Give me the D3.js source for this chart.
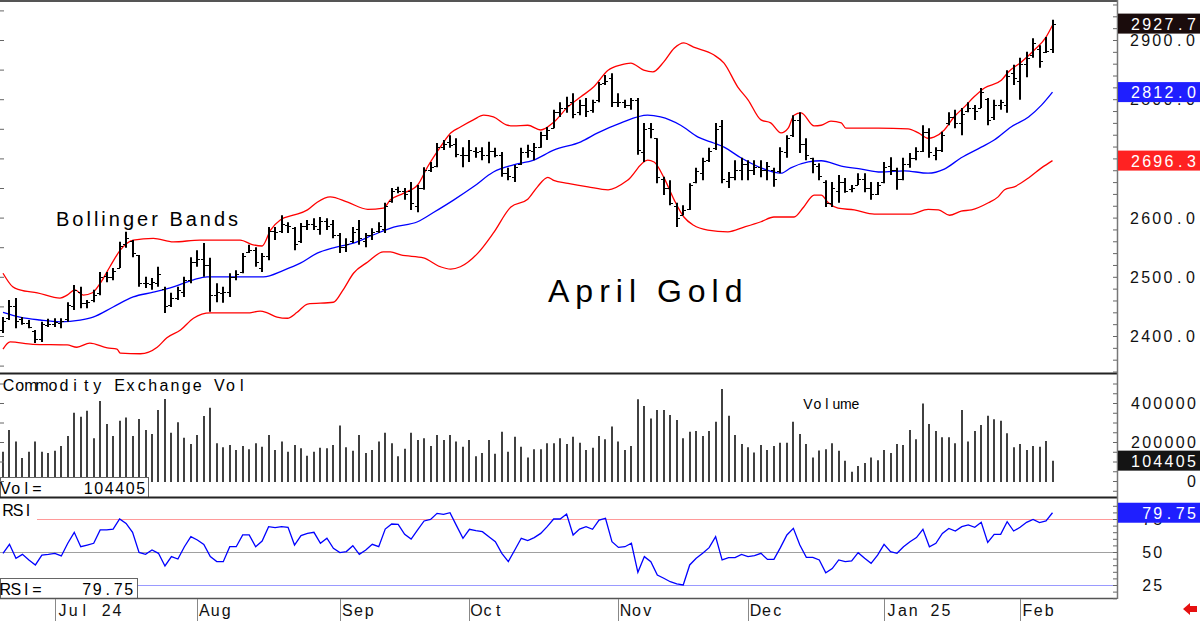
<!DOCTYPE html>
<html><head><meta charset="utf-8">
<script src="https://cdn.jsdelivr.net/npm/d3@7"></script>
<style>body{margin:0;background:#fff;} svg{display:block;font-family:"Liberation Sans",Arial,sans-serif;}</style>
</head><body><svg id="c" width="1200" height="621"></svg>
<script>
// ---------- DATA ----------
const monthLabels = ["Jul 24","Aug","Sep","Oct","Nov","Dec","Jan 25","Feb"];
const monthStartIdx = [8,30,52,72,95,115,136,157];
const priceTicks = [2400,2500,2600,2700,2800,2900];
const volumeTicks = [0,200000,400000];
const rsiTicks = [25,50,75];

const highs = [2432,2461,2464,2432,2427,2410,2424,2429,2430,2430,
2457,2486,2483,2461,2478,2508,2508,2515,2559,2576,
2562,2537,2500,2498,2517,2483,2473,2483,2500,2533,
2545,2557,2532,2489,2483,2506,2511,2540,2554,2550,
2540,2584,2584,2604,2592,2584,2591,2596,2599,2601,
2599,2596,2574,2565,2584,2596,2574,2582,2592,2625,
2650,2652,2650,2660,2655,2685,2694,2726,2731,2739,
2734,2719,2731,2719,2719,2728,2718,2711,2684,2689,
2718,2723,2726,2745,2753,2782,2795,2804,2810,2799,
2802,2799,2829,2841,2844,2810,2799,2802,2802,2760,
2760,2734,2669,2663,2625,2621,2658,2684,2701,2718,
2760,2765,2677,2697,2701,2697,2697,2697,2694,2684,
2719,2739,2773,2778,2734,2701,2692,2663,2660,2672,
2667,2655,2675,2675,2660,2660,2694,2702,2684,2701,
2709,2719,2756,2751,2719,2745,2778,2782,2785,2795,
2790,2819,2802,2799,2799,2849,2858,2870,2880,2903,
2891,2905,2934];
const lows = [2405,2427,2413,2419,2413,2388,2390,2415,2415,2413,
2424,2444,2447,2447,2457,2469,2491,2494,2515,2549,
2533,2483,2481,2478,2483,2439,2449,2461,2466,2489,
2517,2500,2441,2457,2456,2466,2494,2506,2540,2517,
2508,2528,2562,2574,2574,2545,2557,2579,2579,2571,
2579,2565,2540,2542,2557,2554,2550,2562,2574,2574,
2625,2641,2630,2613,2609,2647,2677,2685,2714,2718,
2702,2685,2694,2701,2697,2692,2702,2669,2663,2660,
2689,2701,2697,2718,2731,2751,2770,2777,2768,2773,
2770,2777,2795,2824,2787,2787,2785,2782,2706,2694,
2734,2658,2638,2621,2584,2604,2613,2658,2663,2694,
2714,2658,2650,2663,2663,2663,2672,2668,2663,2652,
2675,2701,2736,2709,2697,2675,2663,2618,2618,2625,
2642,2643,2655,2643,2630,2638,2658,2672,2647,2663,
2684,2697,2711,2701,2697,2711,2756,2751,2739,2778,
2765,2785,2756,2765,2782,2777,2824,2799,2837,2870,
2853,2878,2878];
const opens = [2410,2430,2450,2428,2422,2408,2395,2418,2420,2422,
2428,2450,2475,2455,2460,2472,2502,2500,2515,2555,
2560,2537,2490,2488,2490,2480,2452,2465,2475,2495,
2525,2530,2520,2470,2472,2475,2500,2508,2542,2545,
2515,2535,2578,2578,2588,2582,2560,2585,2590,2580,
2595,2590,2570,2550,2560,2580,2560,2570,2578,2580,
2628,2648,2645,2645,2620,2650,2680,2688,2720,2728,
2725,2705,2705,2712,2712,2705,2712,2705,2675,2668,
2690,2710,2712,2720,2740,2752,2778,2785,2795,2778,
2790,2782,2798,2828,2835,2795,2795,2790,2798,2710,
2752,2734,2665,2650,2620,2605,2615,2660,2675,2698,
2718,2755,2662,2668,2680,2690,2680,2685,2680,2680,
2678,2710,2740,2765,2725,2700,2688,2660,2625,2645,
2660,2648,2655,2665,2650,2640,2660,2688,2680,2665,
2690,2700,2712,2745,2705,2715,2760,2770,2760,2780,
2785,2785,2800,2770,2790,2790,2845,2830,2860,2875,
2885,2880,2885];
const closes = [2425,2450,2425,2422,2415,2395,2420,2420,2424,2425,
2452,2478,2455,2457,2470,2500,2500,2510,2552,2565,
2540,2490,2490,2492,2505,2450,2465,2478,2495,2525,
2530,2520,2470,2475,2475,2500,2505,2535,2545,2525,
2535,2578,2575,2590,2585,2555,2585,2590,2585,2595,
2585,2570,2550,2555,2575,2565,2570,2575,2585,2620,
2645,2645,2640,2625,2650,2680,2685,2720,2725,2722,
2708,2705,2715,2710,2705,2712,2705,2675,2670,2685,
2710,2715,2720,2740,2748,2778,2785,2790,2775,2790,
2780,2795,2825,2830,2795,2795,2790,2798,2715,2750,
2750,2668,2650,2625,2600,2612,2655,2678,2695,2712,
2750,2665,2668,2680,2690,2680,2685,2680,2688,2665,
2712,2735,2765,2725,2705,2690,2670,2625,2650,2660,
2645,2650,2665,2650,2640,2655,2685,2680,2665,2690,
2700,2712,2745,2710,2715,2740,2770,2760,2775,2785,
2780,2812,2765,2790,2795,2840,2835,2860,2870,2895,
2865,2882,2927.7];

// Bollinger bands: [bar index, price]
const upperBand = [[0,2506],[1.5,2483],[2.6,2478],[5.3,2473],[8.8,2464],[9.9,2469],[11.1,2478],[12.4,2469],[13.8,2473],[15,2489],[16.5,2517],[18.1,2545],[20.1,2562],[23.2,2565],[26.3,2559],[30.4,2562],[36.6,2562],[38.6,2554],[40,2552],[41.3,2579],[42.8,2596],[44.8,2604],[47,2613],[48.5,2626],[50.5,2635],[53.2,2626],[56.3,2614],[58.7,2616],[59.8,2630],[61.8,2641],[64,2655],[65.5,2685],[67.5,2719],[69.1,2743],[70.6,2753],[72.6,2765],[74.2,2773],[75.7,2770],[77.9,2756],[78.8,2755],[81,2756],[83,2748],[85,2761],[87.2,2787],[89.2,2804],[91.2,2821],[93.4,2849],[95.4,2858],[96.9,2861],[98.9,2849],[100.3,2846],[102,2863],[103.6,2886],[105.1,2895],[106.6,2888],[109.7,2875],[111.3,2861],[113.4,2821],[115,2799],[117,2765],[118.5,2760],[120.1,2743],[121.2,2751],[122.1,2773],[123.2,2777],[125.2,2755],[126.3,2756],[127.8,2763],[129.4,2760],[130.1,2751],[135.1,2751],[139.7,2750],[141.3,2743],[142.8,2734],[143.7,2736],[145.3,2748],[146.8,2770],[148.4,2787],[149.9,2804],[151.5,2819],[154.1,2832],[155.2,2846],[157.2,2863],[159.2,2883],[161,2905],[162,2925]];
const middleBand = [[0,2440],[2.6,2432],[5.7,2427],[8.8,2424],[11.9,2427],[13.9,2432],[17,2449],[20.1,2466],[23.2,2474],[26.3,2483],[29.4,2495],[31.5,2500],[35.5,2500],[40.2,2500],[43.3,2511],[45.9,2523],[48.5,2540],[51,2549],[54.1,2557],[57.2,2571],[60.3,2584],[64,2593],[66.5,2609],[69.6,2630],[72.6,2652],[75.7,2677],[78.8,2689],[81.9,2697],[85,2714],[89.2,2728],[91.8,2743],[95.4,2760],[99.5,2773],[101.5,2770],[104.6,2756],[107.3,2736],[109.7,2726],[111.3,2719],[113.9,2701],[117,2684],[120.1,2675],[121.6,2684],[124.3,2694],[126.3,2696],[129.4,2687],[132.5,2682],[135.5,2677],[139.1,2679],[142.8,2675],[145.3,2682],[147.9,2701],[151,2719],[153,2731],[155.6,2753],[158.3,2770],[160.3,2790],[162,2812]];
const lowerBand = [[0,2378],[1.1,2390],[4.6,2386],[9.9,2385],[11.4,2381],[13.4,2388],[16.1,2380],[17.6,2378],[18.1,2371],[21.2,2370],[23.8,2381],[25.3,2397],[27.4,2410],[29.4,2430],[32,2439],[37.7,2439],[39.7,2442],[40.8,2439],[42.3,2432],[43.9,2430],[45.4,2440],[47,2454],[51,2457],[52.5,2478],[54.1,2506],[56.3,2525],[58.7,2542],[59.8,2542],[61.4,2537],[64.9,2532],[67.5,2517],[69.1,2513],[70.6,2517],[73.3,2540],[75.7,2574],[78.4,2618],[81,2631],[82.5,2652],[84.1,2668],[85,2663],[87.2,2658],[90.3,2652],[93.4,2647],[96.4,2663],[99.5,2697],[100.5,2694],[102,2668],[103.6,2630],[105.1,2601],[106.6,2587],[108.8,2579],[111.9,2576],[114.4,2584],[117,2593],[119,2601],[122.1,2601],[123.6,2618],[125.2,2638],[126.3,2638],[127.4,2625],[128.9,2616],[131.4,2613],[134.5,2606],[140.2,2606],[142.8,2614],[144.4,2613],[146.1,2604],[147.9,2611],[149.5,2613],[152.1,2625],[153.6,2635],[154.6,2647],[156.1,2652],[158.3,2667],[160.3,2684],[162,2696.3]];

const volumes = [150000,262000,202000,118000,150000,202000,150000,143000,155000,179000,
231000,350000,330000,360000,219000,410000,292000,231000,309000,326000,
231000,318000,262000,241000,364000,420000,248000,301000,222000,190000,
236000,333000,376000,193000,173000,185000,159000,179000,163000,193000,
176000,236000,159000,202000,150000,185000,168000,130000,150000,170000,
168000,185000,284000,173000,155000,236000,143000,159000,202000,248000,
193000,127000,166000,248000,210000,219000,179000,236000,210000,236000,
202000,176000,210000,127000,143000,210000,140000,253000,150000,227000,
176000,121000,163000,163000,193000,193000,219000,190000,227000,196000,
159000,170000,231000,214000,279000,202000,159000,179000,419000,385000,
321000,364000,364000,338000,313000,219000,253000,257000,231000,257000,
304000,472000,335000,236000,190000,173000,146000,185000,159000,179000,
196000,196000,304000,241000,190000,121000,157000,163000,193000,155000,
104000,48000,77000,92000,120000,106000,159000,143000,190000,185000,
262000,214000,398000,292000,257000,224000,224000,193000,364000,202000,
257000,287000,335000,317000,309000,245000,173000,190000,159000,179000,
176000,205000,104405];

const rsi = [49,55.8,45.2,48.2,44,40.2,47.7,48.2,49,47,
56.6,64.9,54,55.3,56.6,66.7,66.7,67.4,75,71.7,
64.9,49.7,48.2,51.5,49,39.4,46.5,44.7,54,61.6,
59.1,55.8,46.5,42.7,42.7,54,54,62.9,62.9,54,
58.3,69.2,68.4,69.2,68.7,55.3,62.4,64.1,64.9,56.6,
60.4,52.8,49.5,50.3,54.8,48.2,51.5,55.8,54,67.4,
71.2,71,63.4,59.8,66.7,73.5,74.7,79.3,78.5,79.8,
70,60.4,67.2,66.2,65.4,61.6,57.8,49,42.7,51.5,
60.4,58.6,60.9,64.1,69.2,75,75,78.8,62.9,67.4,
69.2,67.2,74.2,75.5,57.8,53.5,54,56.6,34.6,46.5,
42.7,32.6,30.1,27.5,25.8,25,40.2,45.2,49,53.3,
61.6,44,45.7,45.7,48.2,46.5,47.2,49,44.4,44.4,
53.3,62.9,67.9,55.3,46,46,44,34.3,37.4,44,
42.7,43.2,49.5,45.2,41.4,47.7,55.8,50.3,49,54,
57.8,60.9,67.2,54,56.6,64.1,67.9,65.9,69.2,70.5,
68.7,72.5,57.3,63.4,63.4,73,65.9,68.7,72.5,74.7,
72.3,73.5,79.75];

// ---------- LAYOUT ----------
const axisX = 1117;
const svg = d3.select("#c");
const N = closes.length;
const x = d3.scaleLinear().domain([0, N-1]).range([3, 1052.5]).interpolate(d3.interpolateRound);
const xs = d3.scaleLinear().domain([0, N-1]).range([3, 1052.5]);
const yP = d3.scaleLinear().domain([2400, 2900]).range([336, 40]);
const yV = d3.scaleLinear().domain([0, 400000]).range([481, 403]);
const yR = d3.scaleLinear().domain([25, 75]).range([585, 519]);

const FONT = '"Liberation Sans", Arial, sans-serif';
function mono(g, str, x0, yBase, cw, size, fill) {
  const chars = Array.from(str);
  const pos = [], out = [];
  chars.forEach((c, k) => { if (c !== " ") { pos.push((x0 + (k + 0.5) * cw).toFixed(1)); out.push(c); } });
  return g.append("text").attr("x", pos.join(" ")).attr("y", yBase)
    .attr("text-anchor", "middle").attr("font-size", size).attr("font-family", FONT)
    .attr("fill", fill || "#000").text(out.join(""));
}

svg.append("defs").append("clipPath").attr("id", "pclip")
  .append("rect").attr("x", 0).attr("y", 2).attr("width", axisX).attr("height", 371);

// ---------- PRICE PANEL ----------
const pg = svg.append("g").attr("clip-path", "url(#pclip)");
const bandLine = d3.line().x(d => xs(d[0])).y(d => yP(d[1])).curve(d3.curveMonotoneX);
pg.append("path").datum(upperBand).attr("d", bandLine).attr("fill", "none").attr("stroke", "#ff0000").attr("stroke-width", 1.3);
pg.append("path").datum(lowerBand).attr("d", bandLine).attr("fill", "none").attr("stroke", "#ff0000").attr("stroke-width", 1.3);
pg.append("path").datum(middleBand).attr("d", bandLine).attr("fill", "none").attr("stroke", "#0000ff").attr("stroke-width", 1.3);

const barsG = pg.append("g").attr("stroke", "#000");
d3.range(N).forEach(i => {
  const cx = x(i);
  barsG.append("line").attr("x1", cx).attr("x2", cx).attr("y1", yP(highs[i])).attr("y2", yP(lows[i])).attr("stroke-width", 2);
  barsG.append("line").attr("x1", cx - 3).attr("x2", cx).attr("y1", Math.round(yP(opens[i])) + 0.5).attr("y2", Math.round(yP(opens[i])) + 0.5).attr("stroke-width", 1);
  barsG.append("line").attr("x1", cx).attr("x2", cx + 3).attr("y1", Math.round(yP(closes[i])) + 0.5).attr("y2", Math.round(yP(closes[i])) + 0.5).attr("stroke-width", 1);
});

svg.append("text").attr("x", 56).attr("y", 226).attr("font-size", 20).attr("letter-spacing", 3)
  .attr("font-family", FONT).text("Bollinger Bands");
svg.append("text").attr("x", 548).attr("y", 302).attr("font-size", 32).attr("letter-spacing", 6)
  .attr("font-family", FONT).text("April Gold");

// ---------- VOLUME PANEL ----------
const vg = svg.append("g").attr("stroke", "#111").attr("stroke-width", 1.6);
volumes.forEach((v, i) => {
  vg.append("line").attr("x1", x(i)).attr("x2", x(i)).attr("y1", yV(0) + 1).attr("y2", yV(v));
});
mono(svg, "Commodity Exchange Vol", 3, 391, 11.1, 16);
mono(svg, "Volume", 803, 409, 9.5, 14);
svg.append("rect").attr("x", 0.5).attr("y", 477.5).attr("width", 148).attr("height", 20).attr("fill", "#fff").attr("stroke", "#666");
mono(svg, "Vol=", 0, 494, 10.5, 16);
mono(svg, String(volumes[N-1]), 146 - 6 * 10.5, 494, 10.5, 16);

// ---------- RSI PANEL ----------
svg.append("line").attr("x1", 37).attr("x2", axisX).attr("y1", yR(75) + 0.5).attr("y2", yR(75) + 0.5).attr("stroke", "#ff9a9a").attr("stroke-width", 1);
svg.append("line").attr("x1", 0).attr("x2", axisX).attr("y1", yR(50) + 0.5).attr("y2", yR(50) + 0.5).attr("stroke", "#a0a0a0").attr("stroke-width", 1);
svg.append("line").attr("x1", 137).attr("x2", axisX).attr("y1", yR(25) + 0.5).attr("y2", yR(25) + 0.5).attr("stroke", "#9a9aff").attr("stroke-width", 1);
const rsiLine = d3.line().x((d, i) => xs(i)).y(d => yR(d));
svg.append("path").datum(rsi).attr("d", rsiLine).attr("fill", "none").attr("stroke", "#0000ff").attr("stroke-width", 1.3);
mono(svg, "RSI", 3, 516, 10, 16);
svg.append("rect").attr("x", 0.5).attr("y", 578.5).attr("width", 137).attr("height", 20).attr("fill", "#fff").attr("stroke", "#666");
mono(svg, "RSI=", 0, 595, 10.5, 16);
mono(svg, rsi[N-1].toFixed(2), 134 - 5 * 10.5, 595, 10.5, 16);

// ---------- FRAME LINES ----------
const frame = svg.append("g");
frame.append("line").attr("x1", 0).attr("x2", axisX).attr("y1", 1).attr("y2", 1).attr("stroke", "#555").attr("stroke-width", 2);
frame.append("line").attr("x1", 0).attr("x2", axisX).attr("y1", 373.5).attr("y2", 373.5).attr("stroke", "#222").attr("stroke-width", 2);
frame.append("line").attr("x1", 0).attr("x2", axisX).attr("y1", 497.5).attr("y2", 497.5).attr("stroke", "#222").attr("stroke-width", 2);
frame.append("line").attr("x1", 0).attr("x2", axisX).attr("y1", 598.5).attr("y2", 598.5).attr("stroke", "#555").attr("stroke-width", 1.5);
frame.append("line").attr("x1", axisX + 0.5).attr("x2", axisX + 0.5).attr("y1", 0).attr("y2", 599).attr("stroke", "#777").attr("stroke-width", 1.5);

// axis ticks (right and left)
function ticks(axis, tx) {
  const g = svg.append("g").attr("transform", `translate(${tx},0)`).call(axis);
  g.select(".domain").remove();
  g.selectAll("line").attr("stroke", "#666");
  return g;
}
ticks(d3.axisLeft(yP).tickValues(d3.range(2340, 2961, 20)).tickSize(4).tickFormat(""), axisX);
ticks(d3.axisRight(yP).tickValues(d3.range(2350, 2961, 50)).tickSize(4).tickFormat(""), 0);
ticks(d3.axisLeft(yV).tickValues(d3.range(-50000, 500001, 50000)).tickSize(4).tickFormat(""), axisX);
ticks(d3.axisRight(yV).tickValues(d3.range(0, 500001, 100000)).tickSize(4).tickFormat(""), 0);
ticks(d3.axisLeft(yR).tickValues(d3.range(15, 86, 5)).tickSize(4).tickFormat(""), axisX);

// ---------- RIGHT LABELS ----------
const fmt1 = d3.format(".1f");
priceTicks.forEach(v => mono(svg, fmt1(v), 1196 - 6 * 11.2, yP(v) + 6, 11.2, 16, "#111"));
function box(v, yScale, color, label) {
  const yc = yScale(v);
  svg.append("rect").attr("x", axisX + 1).attr("y", yc - 10).attr("width", 1200 - axisX - 1).attr("height", 20).attr("fill", color);
  mono(svg, label, 1197 - label.length * 11.2, yc + 6, 11.2, 16, "#fff");
}
box(closes[N-1], yP, "#1a0c0c", fmt1(closes[N-1]));
box(middleBand[middleBand.length-1][1], yP, "#1f1fff", fmt1(middleBand[middleBand.length-1][1]));
box(lowerBand[lowerBand.length-1][1], yP, "#ff2222", fmt1(lowerBand[lowerBand.length-1][1]));

volumeTicks.forEach(v => { const s = String(v); mono(svg, s, 1197 - s.length * 11.2, yV(v) + 6, 11.2, 16, "#111"); });
box(volumes[N-1], yV, "#141414", String(volumes[N-1]));

rsiTicks.forEach(v => mono(svg, String(v), 1141, yR(v) + 6, 11.2, 16, "#111"));
box(rsi[N-1], yR, "#1f1fff", rsi[N-1].toFixed(2));

// ---------- X AXIS ----------
const xg = svg.append("g").attr("transform", "translate(0,599)")
  .call(d3.axisBottom(x).tickValues(monthStartIdx).tickSize(22).tickFormat(""));
xg.select(".domain").remove();
xg.selectAll("line").attr("stroke", "#888");
monthStartIdx.forEach((idx, k) => mono(svg, monthLabels[k], x(idx) + 2, 616, 10.9, 16, "#111"));

// red arrow bottom-right
svg.append("path").attr("d", "M1183,609 L1190,603 L1190,606 L1197,606 L1197,612 L1190,612 L1190,615 Z").attr("fill", "#e61010");
</script></body></html>
